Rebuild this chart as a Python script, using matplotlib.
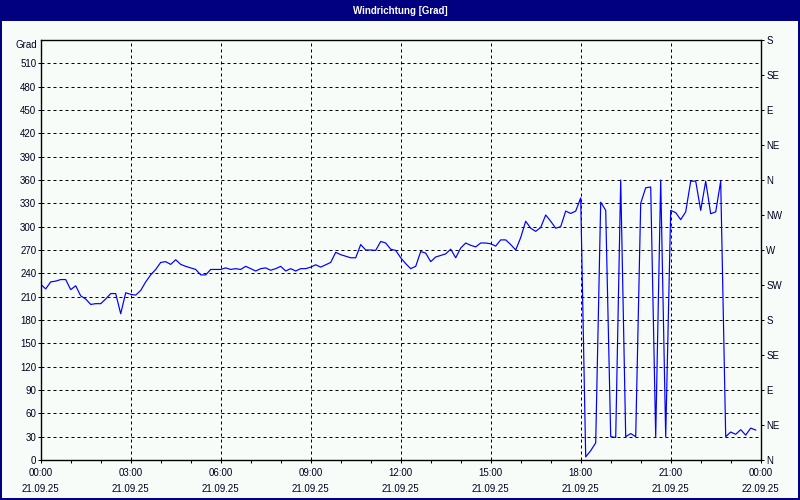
import matplotlib
matplotlib.use("Agg")
import matplotlib.pyplot as plt
from matplotlib.patches import Rectangle
from matplotlib.ticker import MultipleLocator, FixedLocator
import numpy as np

# ---- data (10-minute samples starting 21.09.25 00:00) ----
direction = [
    226, 220, 229, 230, 232, 232, 219, 224, 211, 207,
    200, 201, 201, 207, 214, 214, 188, 215, 213, 212,
    218, 229, 238, 245, 254, 255, 251.5, 257.5, 251.5, 249,
    247, 245, 238, 238, 245, 245, 245, 247, 245, 246,
    245, 249, 246, 243, 246, 247, 244, 246, 249, 243,
    246, 243, 246, 246, 248, 251, 248, 251, 254, 267,
    264, 262, 260, 260, 277, 270, 270, 269.5, 281, 279,
    271, 269.5, 260, 252.5, 246, 249, 268, 266, 255, 261,
    263, 265, 271, 260, 272.5, 279, 276, 274, 279, 279,
    278, 275, 283, 283, 277, 270, 286, 307, 298, 294,
    299, 315, 307, 298, 300, 320, 317, 320, 337, 4,
    12, 22, 331.5, 321, 30, 29, 360, 30, 34, 30,
    330, 350, 351, 30, 360, 30, 321, 318, 309, 319,
    358.5, 358.5, 321, 358.5, 316.6, 319, 358.5, 30, 36, 33,
    39, 32, 41, 38.5,
]
hours = [i / 6.0 for i in range(len(direction))]

x_tick_hours = [0, 3, 6, 9, 12, 15, 18, 21, 24]
x_tick_labels = ["00:00\n21.09.25", "03:00\n21.09.25", "06:00\n21.09.25",
                 "09:00\n21.09.25", "12:00\n21.09.25", "15:00\n21.09.25",
                 "18:00\n21.09.25", "21:00\n21.09.25", "00:00\n22.09.25"]
y_ticks = list(range(0, 511, 30))
compass_values = list(range(0, 541, 45))
compass_labels = ["N", "NE", "E", "SE", "S", "SW", "W", "NW", "N", "NE", "E", "SE", "S"]
title = "Windrichtung [Grad]"
unit = "Grad"

# ---- styling ----
W, H = 800, 500
bg = "#F8FCF8"
navy = "#000080"
txt = "#000020"
FS = 7.0
FONT = "Liberation Sans"
px = 0.72  # 1 pixel in points at 100 dpi

fig = plt.figure(figsize=(8, 5), dpi=100, facecolor=bg)

# title bar and border
fig.patches.append(Rectangle((0, 1 - 21 / H), 1, 21 / H, transform=fig.transFigure,
                             facecolor=navy, edgecolor="none", zorder=0))
fig.patches.append(Rectangle((1 / W, 1 / H), 1 - 2 / W, 1 - 2 / H, transform=fig.transFigure,
                             facecolor="none", edgecolor=navy, linewidth=2 * px, zorder=1))
fig.text(0.5, 1 - 10.5 / H, title, ha="center", va="center", color="white",
         fontsize=FS, fontweight="bold", family=FONT)

ax = fig.add_axes([40.7 / W, 40 / H, 720 / W, 420 / H])
ax.set_facecolor(bg)
ax.plot(hours, direction, color="#0000FF", linewidth=1.0 * px * 1.2, zorder=3)

ax.set_xlim(0, 24)
ax.set_ylim(0, 540)
ax.xaxis.set_major_locator(FixedLocator(x_tick_hours))
ax.set_xticklabels(x_tick_labels)
ax.xaxis.set_minor_locator(MultipleLocator(1))
ax.set_yticks(y_ticks)
ax.set_yticklabels([str(v) for v in y_ticks])

for s in ax.spines.values():
    s.set_color("black")
    s.set_linewidth(1.2 * px)

ax.tick_params(axis="x", which="both", direction="out", length=3 * px, width=px,
               color="black", pad=5 * px, labelsize=FS, labelcolor=txt)
ax.tick_params(axis="y", which="both", direction="out", length=3 * px, width=px,
               color="black", pad=1.5 * px, labelsize=FS, labelcolor=txt)
for lab in ax.get_xticklabels() + ax.get_yticklabels():
    lab.set_family(FONT)
for lab in ax.get_xticklabels():
    lab.set_linespacing(1.75)

# dashed grid
for yv in y_ticks[1:]:
    ax.axhline(yv, color="black", linewidth=px, linestyle=(0, (3, 3)), zorder=1)
for xv in x_tick_hours[1:-1]:
    ax.axvline(xv, color="black", linewidth=px, linestyle=(0, (3, 3)), zorder=1)

# right compass axis
ax2 = ax.twinx()
ax2.set_ylim(0, 540)
ax2.set_yticks(compass_values)
ax2.set_yticklabels(compass_labels)
ax2.tick_params(axis="y", direction="out", length=3 * px, width=px, color="black",
                pad=2.5 * px, labelsize=FS, labelcolor=txt)
for lab in ax2.get_yticklabels():
    lab.set_family(FONT)
for s in ax2.spines.values():
    s.set_color("black")
    s.set_linewidth(1.2 * px)

fig.text(36.7 / W, 1 - 45 / H, unit, ha="right", va="center", color=txt,
         fontsize=FS, family=FONT)

fig.savefig("out.png", dpi=100, facecolor=bg)
